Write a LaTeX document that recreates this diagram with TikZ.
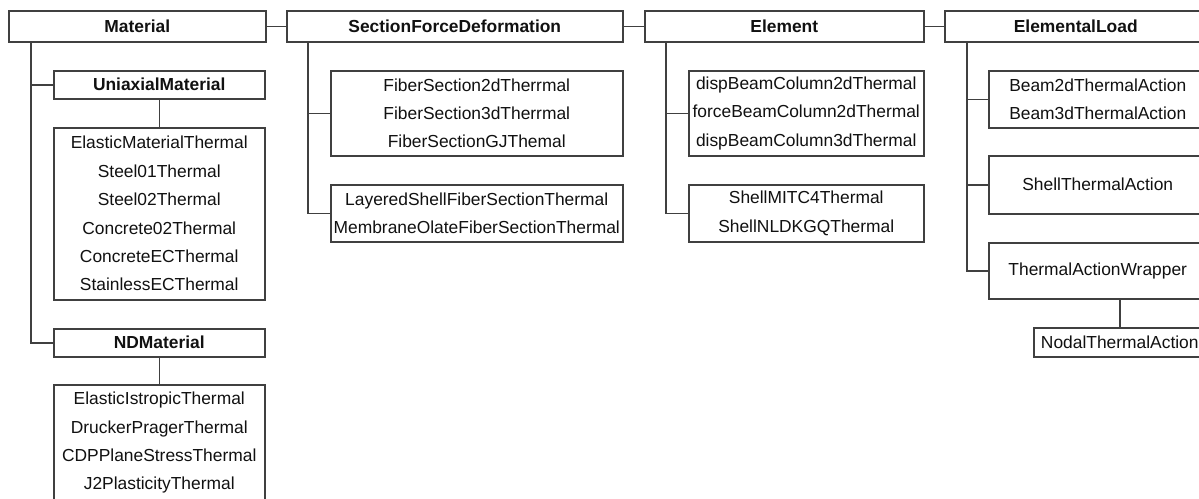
\documentclass[tikz,border=0pt]{standalone}
\usepackage{fontspec}
\setmainfont{Liberation Sans}
\usetikzlibrary{calc}
\definecolor{linec}{HTML}{404040}
\definecolor{txtc}{HTML}{111111}
\begin{document}
\begin{tikzpicture}[x=1pt,y=-1pt,
  box/.style={draw=linec, line width=1.5pt, fill=white, inner sep=0pt, anchor=north west,
    align=center, text=txtc, font=\fontsize{17.4}{28.4}\selectfont},
  head/.style={box, font=\fontsize{17.4}{28.4}\selectfont\bfseries},
  conn/.style={draw=linec, line width=1.5pt}]
\clip (0,0) rectangle (1199,498);
\fill[white] (0,0) rectangle (1199,498);

% Material column
\node[head, minimum width=257pt, minimum height=31pt] (mat) at (8,10) {Material};
\node[head, minimum width=211pt, minimum height=28pt] (uni) at (53,70) {UniaxialMaterial};
\node[box, minimum width=211pt, minimum height=172pt] (unisub) at (53,127)
  {ElasticMaterialThermal\\Steel01Thermal\\Steel02Thermal\\Concrete02Thermal\\ConcreteECThermal\\StainlessECThermal};
\node[head, minimum width=211pt, minimum height=28pt] (nd) at (53,328) {NDMaterial};
\node[box, minimum width=211pt, minimum height=116pt] (ndsub) at (53,384)
  {ElasticIstropicThermal\\DruckerPragerThermal\\CDPPlaneStressThermal\\J2PlasticityThermal};

% SectionForceDeformation column
\node[head, minimum width=336pt, minimum height=31pt] (sfd) at (286,10) {SectionForceDeformation};
\node[box, minimum width=292pt, minimum height=85pt] (sfda) at (330,70)
  {FiberSection2dTherrmal\\FiberSection3dTherrmal\\FiberSectionGJThemal};
\node[box, minimum width=292pt, minimum height=57pt] (sfdb) at (330,184)
  {LayeredShellFiberSectionThermal\\MembraneOlateFiberSectionThermal};

% Element column
\node[head, minimum width=279pt, minimum height=31pt] (el) at (644,10) {Element};
\node[box, minimum width=235pt, minimum height=85pt] (ela) at (688,70)
  {dispBeamColumn2dThermal\\forceBeamColumn2dThermal\\dispBeamColumn3dThermal};
\node[box, minimum width=235pt, minimum height=57pt] (elb) at (688,184)
  {ShellMITC4Thermal\\ShellNLDKGQThermal};

% ElementalLoad column
\node[head, minimum width=262pt, minimum height=31pt] (eload) at (944,10) {ElementalLoad};
\node[box, minimum width=218pt, minimum height=57pt] (lda) at (988,70)
  {Beam2dThermalAction\\Beam3dThermalAction};
\node[box, minimum width=218pt, minimum height=58pt] (ldb) at (988,155) {ShellThermalAction};
\node[box, minimum width=218pt, minimum height=56pt] (ldc) at (988,242) {ThermalActionWrapper};
\node[box, minimum width=172pt, minimum height=29pt] (nodal) at (1033,327) {NodalThermalAction};

% connectors between top boxes
\draw[conn] (mat.east) -- (sfd.west);
\draw[conn] (sfd.east) -- (el.west);
\draw[conn] (el.east) -- (eload.west);

% Material trunk
\draw[conn] ([xshift=23pt]mat.south west) |- (uni.west);
\draw[conn] ([xshift=23pt]mat.south west) |- (nd.west);
\draw[conn] (uni.south) -- (unisub.north);
\draw[conn] (nd.south) -- (ndsub.north);

% SFD trunk
\draw[conn] ([xshift=22pt]sfd.south west) |- (sfda.west);
\draw[conn] ([xshift=22pt]sfd.south west) |- (sfdb.west);

% Element trunk
\draw[conn] ([xshift=22pt]el.south west) |- (ela.west);
\draw[conn] ([xshift=22pt]el.south west) |- (elb.west);

% ElementalLoad trunk
\draw[conn] ([xshift=23pt]eload.south west) |- (lda.west);
\draw[conn] ([xshift=23pt]eload.south west) |- (ldb.west);
\draw[conn] ([xshift=23pt]eload.south west) |- (ldc.west);
\draw[conn] (nodal.north) -- (nodal.north |- ldc.south);
\end{tikzpicture}
\end{document}
